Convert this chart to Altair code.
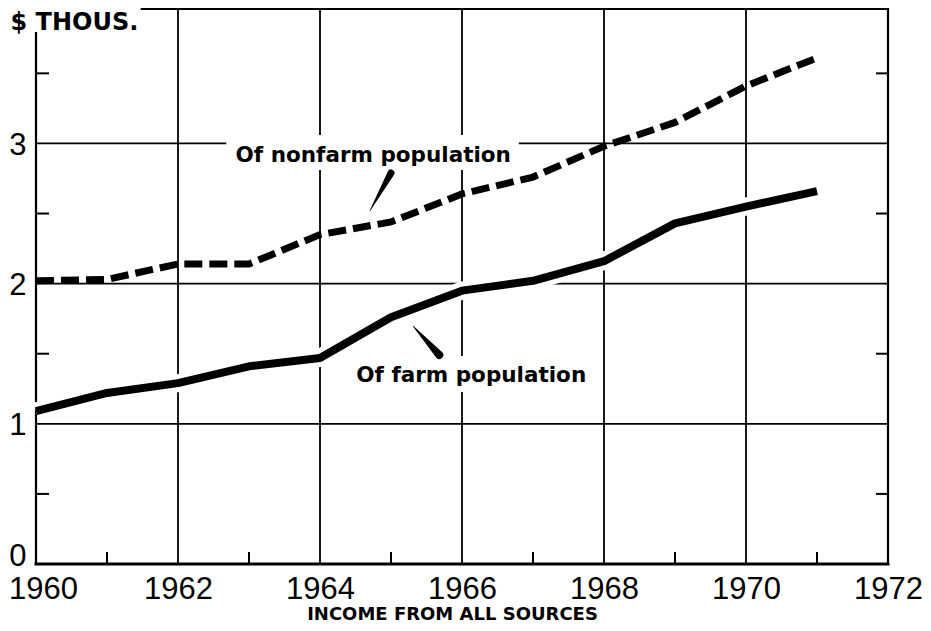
import altair as alt
import pandas as pd

# ---------------- data ----------------
years = [1960, 1961, 1962, 1963, 1964, 1965, 1966, 1967, 1968, 1969, 1970, 1971]
farm_income = [1.09, 1.22, 1.29, 1.41, 1.47, 1.76, 1.95, 2.02, 2.16, 2.43, 2.55, 2.66]
nonfarm_income = [2.02, 2.03, 2.14, 2.14, 2.35, 2.44, 2.64, 2.76, 2.98, 3.15, 3.41, 3.61]

x_label_years = [1960, 1962, 1964, 1966, 1968, 1970, 1972]
y_label_values = [0, 1, 2, 3]
grid_years = [1962, 1964, 1966, 1968, 1970]
grid_values = [1, 2, 3]
minor_years = [1961, 1963, 1965, 1967, 1969, 1971]
minor_values = [0.5, 1.5, 2.5, 3.5]

label_texts = ["Of nonfarm population", "Of farm population"]
label_x = [1964.75, 1966.13]
label_y = [2.867, 1.298]
box_x0 = [1962.68, 1964.41]
box_x1 = [1966.80, 1967.85]
box_y0 = [2.81, 1.227]
box_y1 = [3.06, 1.484]

pointer_id = ["nonfarm", "nonfarm", "farm", "farm"]
pointer_x = [1965.00, 1964.70, 1965.31, 1965.68]
pointer_y = [2.789, 2.518, 1.698, 1.491]
pointer_w = [7, 0.5, 0.5, 8]

X_MIN, X_MAX = 1960, 1972
Y_MAX = 3.959
LEFT_TOP = 3.787
TOP_START = 1961.49

# ---------------- tables ----------------
farm_df = pd.DataFrame({"x": years, "y": farm_income})
nonfarm_df = pd.DataFrame({"x": years, "y": nonfarm_income})
hgrid_df = pd.DataFrame({"y": grid_values, "x": X_MIN, "x2": X_MAX})
vgrid_df = pd.DataFrame({"x": grid_years, "y": 0.0, "y2": Y_MAX})
border_df = pd.DataFrame({
    "x": [X_MIN, X_MIN, X_MAX, TOP_START],
    "x2": [X_MIN, X_MAX, X_MAX, X_MAX],
    "y": [0.0, 0.0, 0.0, Y_MAX],
    "y2": [LEFT_TOP, 0.0, Y_MAX, Y_MAX],
    "w": [2.2, 3.0, 2.2, 2.0],
})
left_ticks_df = pd.DataFrame({"y": minor_values, "x": X_MIN})
right_ticks_df = pd.DataFrame({"y": minor_values, "x": X_MAX})
bottom_ticks_df = pd.DataFrame({"x": minor_years, "y": 0.0})
labels_df = pd.DataFrame({"x": label_x, "y": label_y, "text": label_texts})
boxes_df = pd.DataFrame({"x": box_x0, "x2": box_x1, "y": box_y0, "y2": box_y1})
pointer_df = pd.DataFrame({"id": pointer_id, "x": pointer_x, "y": pointer_y, "w": pointer_w})

xs = alt.Scale(domain=[X_MIN, X_MAX], nice=False, zero=False)
ys = alt.Scale(domain=[0, Y_MAX], nice=False, zero=True)

x_axis = alt.Axis(
    values=x_label_years, format="d", labelFont="Liberation Sans", labelFontSize=31,
    labelColor="black", labelPadding=10, labelFlush=False, labelOverlap=False,
    labelOffset={"condition": {"test": "datum.value == 1960", "value": 7}, "value": 0},
    ticks=False, domain=False, grid=False,
    title="INCOME FROM ALL SOURCES", titleFont="DejaVu Sans", titleFontWeight="bold",
    titleFontSize=18, titleColor="black", titleX=416, titleY=59,
    titleAlign="center", titleBaseline="bottom",
)
y_axis = alt.Axis(
    values=y_label_values, format="d", labelFont="Liberation Sans", labelFontSize=31,
    labelColor="black", labelPadding=10, labelOverlap=False, labelFlush=False,
    labelOffset={"condition": {"test": "datum.value == 0", "value": -8}, "value": 2},
    ticks=False, domain=False, grid=False,
    title="$ THOUS.", titleFont="DejaVu Sans", titleFontWeight="bold", titleFontSize=24,
    titleColor="black", titleAngle=0, titleAlign="left", titleBaseline="top",
    titleX=-26, titleY=1,
)

X = lambda: alt.X("x:Q", scale=xs, axis=x_axis)
Y = lambda: alt.Y("y:Q", scale=ys, axis=y_axis)

hgrid = alt.Chart(hgrid_df).mark_rule(color="black", strokeWidth=1.8).encode(
    x=X(), x2="x2:Q", y=Y())
vgrid = alt.Chart(vgrid_df).mark_rule(color="black", strokeWidth=1.8).encode(
    x=X(), y=Y(), y2="y2:Q")
borders = alt.Chart(border_df).mark_rule(color="black", strokeCap="square").encode(
    x=X(), x2="x2:Q", y=Y(), y2="y2:Q",
    strokeWidth=alt.StrokeWidth("w:Q", scale=None))
left_ticks = alt.Chart(left_ticks_df).mark_rule(color="black", strokeWidth=2, x2Offset=13).encode(
    x=X(), x2="x:Q", y=Y())
right_ticks = alt.Chart(right_ticks_df).mark_rule(color="black", strokeWidth=2, xOffset=-12).encode(
    x=X(), x2="x:Q", y=Y())
bottom_ticks = alt.Chart(bottom_ticks_df).mark_rule(color="black", strokeWidth=2, y2Offset=-12).encode(
    x=X(), y=Y(), y2="y:Q")

halo = alt.Chart(farm_df).mark_line(color="white", strokeWidth=18, strokeCap="butt").encode(
    x=X(), y=Y())
boxes = alt.Chart(boxes_df).mark_rect(color="white").encode(
    x=X(), x2="x2:Q", y=Y(), y2="y2:Q")

farm_line = alt.Chart(farm_df).mark_line(
    color="black", strokeWidth=8, strokeCap="butt", strokeJoin="round").encode(
    x=X(), y=Y())
nonfarm_line = alt.Chart(nonfarm_df).mark_line(
    color="black", strokeWidth=7, strokeDash=[18, 7], strokeCap="butt").encode(
    x=X(), y=Y())

pointers = alt.Chart(pointer_df).mark_trail(color="black").encode(
    x=X(), y=Y(), detail="id:N", size=alt.Size("w:Q", scale=None, legend=None))

labels = alt.Chart(labels_df).mark_text(
    font="DejaVu Sans", fontWeight="bold", fontSize=21.5, color="black",
    align="center", baseline="alphabetic").encode(
    x=X(), y=Y(), text="text:N")

chart = alt.layer(
    hgrid, vgrid, borders, left_ticks, right_ticks, bottom_ticks,
    halo, boxes, farm_line, nonfarm_line, pointers, labels,
).properties(
    width=852, height=555,
    padding={"left": 28, "top": 1, "right": 35, "bottom": 59},
    autosize=alt.AutoSizeParams(type="none"),
    background="white",
).configure_view(stroke=None)

chart.save("out.html", embed_options={"renderer": "svg", "actions": False})
